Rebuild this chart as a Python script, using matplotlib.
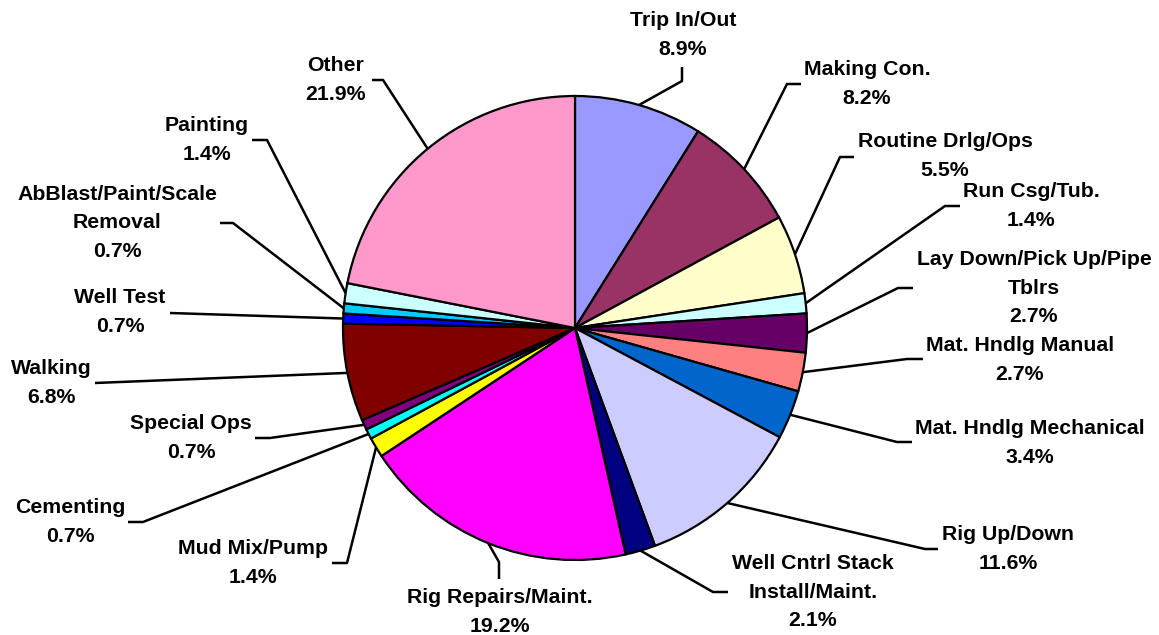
import numpy as np
import matplotlib
matplotlib.use('Agg')
import matplotlib.pyplot as plt

# 数据 (顺时针, 从12点方向开始)
labels = ['Trip In/Out', 'Making Con.', 'Routine Drlg/Ops', 'Run Csg/Tub.',
          'Lay Down/Pick Up/Pipe\nTblrs', 'Mat. Hndlg Manual', 'Mat. Hndlg Mechanical',
          'Rig Up/Down', 'Well Cntrl Stack\nInstall/Maint.', 'Rig Repairs/Maint.',
          'Mud Mix/Pump', 'Cementing', 'Special Ops', 'Walking', 'Well Test',
          'AbBlast/Paint/Scale\nRemoval', 'Painting', 'Other']
values = [8.9, 8.2, 5.5, 1.4, 2.7, 2.7, 3.4, 11.6, 2.1, 19.2,
          1.4, 0.7, 0.7, 6.8, 0.7, 0.7, 1.4, 21.9]
colors = ['#9999FF', '#993366', '#FFFFCC', '#CCFFFF', '#660066', '#FF8080', '#0066CC',
          '#CCCCFF', '#000080', '#FF00FF', '#FFFF00', '#00FFFF', '#800080', '#800000',
          '#0000FF', '#00CCFF', '#CCFFFF', '#FF99CC']

# 标签位置 (像素坐标, 文本块中心) 和引线折点
label_pos = [(683, 35), (867, 84), (945, 156), (1031, 206), (1034, 288), (1020, 360),
             (1030, 443), (1008, 549), (813, 592), (500, 612), (253, 563), (70, 522),
             (191, 438), (51, 383), (120, 312), (117, 223), (207, 140), (336, 80)]
leader_pts = [[(682, 67), (682, 81)], [(801, 84), (787, 84)], [(854, 157), (840, 157)],
              [(960, 206), (945, 206)], [(913, 288), (898, 288)], [(923, 359), (907, 359)],
              [(912, 442), (897, 442)], [(938, 549), (925, 549)], [(728, 592), (713, 592)],
              [(499, 579), (499, 562)], [(332, 563), (347, 563)], [(128, 522), (143, 522)],
              [(255, 438), (270, 438)], [(95, 383)], [(170, 313)],
              [(220, 223), (233, 223)], [(252, 140), (267, 140)], [(372, 80), (383, 80)]]

W, H = 1159, 635
cx, cy, r = 575, 328, 232

fig = plt.figure(figsize=(W / 100, H / 100), dpi=100)
ax = fig.add_axes([0, 0, 1, 1])

ax.pie(values, colors=colors, center=(cx, cy), radius=r, startangle=-90,
       counterclock=True, wedgeprops=dict(edgecolor='black', linewidth=1.6),
       normalize=True, frame=True)
ax.set_xlim(0, W)
ax.set_ylim(H, 0)
ax.axis('off')

total = sum(values)
cum = np.cumsum([0] + values[:-1])
for i, (lab, v) in enumerate(zip(labels, values)):
    theta = np.deg2rad(-90 + 360 * (cum[i] + v / 2) / total)
    px, py = cx + r * np.cos(theta), cy + r * np.sin(theta)
    pts = leader_pts[i] + [(px, py)]
    ax.plot([p[0] for p in pts], [p[1] for p in pts], color='black', lw=1.8,
            solid_capstyle='butt')
    tx, ty = label_pos[i]
    ax.text(tx, ty, f'{lab}\n{v:.1f}%', ha='center', va='center', fontsize=15.3,
            fontweight='bold', family='Liberation Sans', linespacing=1.64)

plt.savefig('out.png', dpi=100)
plt.close()
